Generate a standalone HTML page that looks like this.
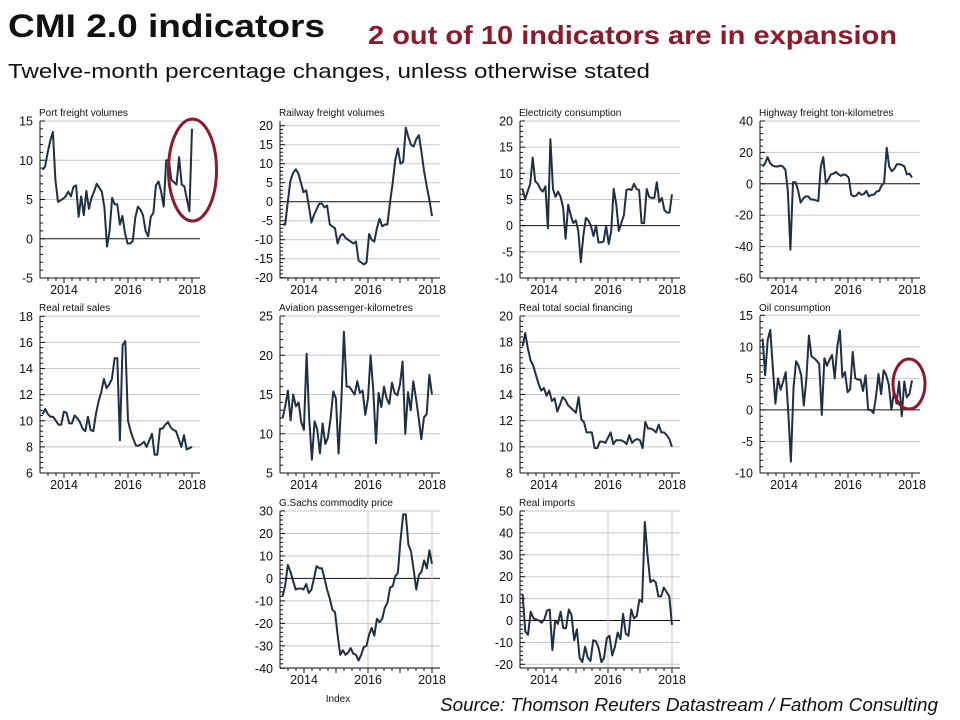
<!DOCTYPE html>
<html><head><meta charset="utf-8"><style>
body{margin:0;background:#fff;}
svg{display:block;font-family:"Liberation Sans",Arial,sans-serif;}
</style></head><body>
<svg id="c" width="960" height="720" xmlns="http://www.w3.org/2000/svg">
<text x="8" y="37" font-size="32" font-weight="bold" fill="#111" textLength="317" lengthAdjust="spacingAndGlyphs">CMI 2.0 indicators</text>
<text x="368" y="44" font-size="26" font-weight="bold" fill="#8b1a2b" textLength="529" lengthAdjust="spacingAndGlyphs">2 out of 10 indicators are in expansion</text>
<text x="8" y="78" font-size="20" fill="#111" textLength="642" lengthAdjust="spacingAndGlyphs">Twelve-month percentage changes, unless otherwise stated</text>
<text x="938" y="711" font-size="18" font-style="italic" fill="#111" text-anchor="end" textLength="498" lengthAdjust="spacingAndGlyphs">Source: Thomson Reuters Datastream / Fathom Consulting</text>
<text x="338" y="702" font-size="10" fill="#111" text-anchor="middle">Index</text>
</svg>
<script>
const titles=["Port freight volumes","Railway freight volumes","Electricity consumption","Highway freight ton-kilometres","Real retail sales","Aviation passenger-kilometres","Real total social financing","Oil consumption","G.Sachs commodity price","Real imports"];
const yTicks=[[-5,0,5,10,15],[-20,-15,-10,-5,0,5,10,15,20],[-10,-5,0,5,10,15,20],[-60,-40,-20,0,20,40],[6,8,10,12,14,16,18],[5,10,15,20,25],[8,10,12,14,16,18,20],[-10,-5,0,5,10,15],[-40,-30,-20,-10,0,10,20,30],[-20,-10,0,10,20,30,40,50]];
const xTicks=[2014,2016,2018];
const port=[8.8,9.2,11,12.5,13.6,7.5,4.7,4.9,5.1,5.4,6,5.4,6.6,6.8,2.8,5.4,3,6.1,3.8,5.2,6,7,6.5,6,4,-1,1,5.2,4.4,4.4,1.8,2.9,0.7,-0.6,-0.6,-0.3,2.7,4.1,3.7,3,1,0.3,2.8,3.3,6.8,7.3,6,4.1,10,10,7.5,7.2,6.9,10.4,6.9,6.7,5.1,3.5,14];
const railway=[-6,-6,0,5.5,7.5,8.5,7.5,5,2.5,3,-1,-5.5,-3.5,-2,-0.5,-0.5,-1.5,-1,-6,-6.5,-7,-11,-9,-8.5,-9.5,-10,-10.5,-11,-10.5,-15.5,-16,-16.5,-16,-8.5,-10,-10.5,-7,-4.5,-6.5,-6,-6,0,5,11,14,10,10.5,19.5,17,15,14.5,16.5,17.5,13,8,4,0.5,-3.8];
const electricity=[7,5,6.5,8,13,8.5,8,7,6.5,7.5,-0.5,16.5,7,5.5,6.5,5.5,3.5,-2.5,4,2,0.5,1,-1,-7,-2,1.5,1,0,-2,0,-3.2,-3.2,-3,0,-3.5,-1,7,4,-1,0.5,2,6.8,7,6.8,8,7,6.8,0.5,0.5,7,5.5,5.3,5.3,8.3,4.5,5.3,3,2.5,2.5,6];
const highway=[11,13,17,13,11.5,11,11,11.5,11,9,-5,-42,1,1,-4,-12,-9.5,-8,-8,-10,-10,-10.5,-11,11,17,0,3,6,6.5,7.5,6,5,6,5.5,4,-7,-8,-7.5,-5.5,-7,-6.5,-4.5,-8,-7,-7,-5,-4.5,-1,0.5,23,11,8,9.5,12.5,12.5,12,11,6,6.5,4];
const retail=[10.5,10.9,10.5,10.3,10.3,10,9.7,9.7,10.7,10.6,9.8,9.8,10.4,10.2,9.9,9.4,9.2,10.3,9.3,9.2,10.5,11.5,12.2,13.2,12.5,12.8,13.2,14.8,14.8,8.5,15.8,16.1,10,9.2,8.6,8.1,8.1,8.2,8.4,8,8.5,9,7.4,7.4,9.4,9.4,9.7,9.9,9.5,9.3,9.2,8.6,8,8.9,7.8,7.9,8];
const aviation=[12,13.5,15.5,11.7,15,13.5,14,11.5,10.5,20.2,12,6.7,11.6,10.5,7.5,11.3,8.7,9.5,12,15.4,14.5,7.5,14,23,16,16,15.5,15,16.7,15.2,15.5,12.4,14.5,20,15.5,8.8,15.2,13.4,16,14.5,13.8,16.5,15.2,14.9,16.3,19.2,10,15.3,13,16.7,14.5,12,9.3,12.1,12.5,17.5,15];
const social=[17.7,18.7,17.5,16.6,16.2,15.5,14.8,14.3,14.5,13.9,14.3,13.5,13.7,12.7,13.2,13.8,13.6,13.2,13,12.8,12.6,13.8,12.1,11.9,11.1,11.1,11.1,9.9,9.9,10.4,10.4,10.3,10.7,11.1,10.2,10.5,10.5,10.5,10.4,10.2,10.9,10.3,10.5,10.6,10.5,9.9,11.9,11.4,11.4,11.3,11.1,11.7,11.1,11.1,10.9,10.6,10];
const oil=[11.3,5.5,11.1,12.7,6.5,1,5,3.2,4.5,6,-0.5,-8.2,3.5,7.7,7,5.5,0.7,5,11.8,8.5,8.2,7.8,7.3,-0.8,8.2,7,8,8.7,5,10,12.6,5.2,6,2.8,3.3,9.2,5,4.8,4.8,3,5.5,0,0,-0.5,2,5.7,2.5,6.3,5.5,4,0,3,1,4.5,-1,4.5,2,2.5,4.7];
const commodity=[-8,-3,6,3,-1,-5,-4.5,-4.5,-5,-2.5,-6.5,-5,0,5.5,4.5,4.5,0,-5,-9,-14,-15,-25,-34,-32,-34,-33,-31,-33.5,-34,-36.5,-34,-30.5,-30,-25,-22,-25.5,-18,-19.5,-18,-13,-11,-4,-3.5,1,2.5,17,28.5,28.5,15,12,4,-5,1.5,3,8,4.5,12.5,6.5];
const imports=[12,-5,-6.5,4,1,0.5,0,-1,0.5,4.5,5,-13.5,0,-1.5,4,-3.5,-3.5,5,2.5,-9,-4,-17,-19,-12,-17,-18.5,-9,-9.5,-12.5,-19,-17,-8,-7,-16,-12,-5.5,-8.5,3,-6,-7,5,1,2,9.5,8.5,45,30,17.5,18.5,17.5,11,11,15,13,11,-2];
const series=[port,railway,electricity,highway,retail,aviation,social,oil,commodity,imports];
const startYear=2013.33,endYear=2018.0;

const layout=[
 {ax:40,top:121,bot:278,lab:294,vg:false},{ax:280,top:121,bot:278,lab:294,vg:false},{ax:520,top:121,bot:278,lab:294,vg:false},{ax:760,top:121,bot:278,lab:294,vg:false},
 {ax:40,top:316,bot:473,lab:489,vg:false},{ax:280,top:316,bot:473,lab:489,vg:false},{ax:520,top:316,bot:473,lab:489,vg:false},{ax:760,top:316,bot:473,lab:489,vg:false},
 {ax:280,top:511,bot:668,lab:684,vg:true},{ax:520,top:511,bot:668,lab:684,vg:true}];
const tickPos=[[121,278],[125.7,277.7],[121,278],[121,278],[316.3,473],[316,473],[316,473],[315.3,473],[511,668.3],[511,664.3]];
const NS="http://www.w3.org/2000/svg";
const svg=document.getElementById('c');
function mk(tag,attrs,parent){const e=document.createElementNS(NS,tag);for(const k in attrs)e.setAttribute(k,attrs[k]);(parent||svg).appendChild(e);return e;}
series.forEach((data,p)=>{
 const L=layout[p],yt=yTicks[p];
 const g=mk('g',{});
 
 
 const ymin=yt[0],ymax=yt[yt.length-1];
 const yTop=tickPos[p][0],yBot=tickPos[p][1];
 const y=v=>yBot-(v-ymin)/(ymax-ymin)*(yBot-yTop);
 const x=t=>L.ax+24+(t-2014)*32;
 const right=L.ax+160;
 const tt=mk('text',{x:L.ax-1,y:L.top-5,'font-size':10,fill:'#111'},g);tt.textContent=titles[p];
 
 
 yt.forEach(v=>{
  const yy=y(v);
  const ln=mk('line',{x1:L.ax,x2:right,y1:yy,y2:yy,stroke:v===0?'#111':'#c8c8c8','stroke-width':1},g);
  
  
  const lb=mk('text',{x:L.ax-7,y:yy+4.5,'font-size':12.5,fill:'#111','text-anchor':'end'},g);lb.textContent=String(v);
  
  
 });
 const step=(yt[1]-yt[0])/5;
 for(let v=ymin;v<=ymax+1e-9;v+=step){const yy=y(v);mk('line',{x1:L.ax,x2:L.ax+(Math.abs((v-ymin)/(yt[1]-yt[0])-Math.round((v-ymin)/(yt[1]-yt[0])))<1e-6?5:3),y1:yy,y2:yy,stroke:'#111','stroke-width':1},g);}
 if(L.vg){xTicks.slice(1).forEach(t=>{const vl=mk('line',{x1:x(t),x2:x(t),y1:L.top,y2:L.bot,stroke:'#c8c8c8'},g);});}
 const ya=mk('line',{x1:L.ax,x2:L.ax,y1:L.top,y2:L.bot,stroke:'#111'},g);
 
 
 const xa=mk('line',{x1:L.ax,x2:right,y1:L.bot,y2:L.bot,stroke:'#111'},g);
 
 
 for(let t=2013.5;t<=2018.01;t+=0.25){const xx=x(t);const major=Math.abs(t-Math.round(t))<1e-6;mk('line',{x1:xx,x2:xx,y1:L.bot,y2:L.bot+(major?5:3),stroke:'#111'},g);}
 xTicks.forEach(t=>{const lb=mk('text',{x:x(t),y:L.lab,'font-size':12.5,fill:'#111','text-anchor':'middle'},g);lb.textContent=t;
  
  });
 const n=data.length;
 const pts=data.map((v,i)=>x(startYear+i*(endYear-startYear)/(n-1)).toFixed(1)+','+y(v).toFixed(1)).join(' ');
 const pl=mk('polyline',{points:pts,fill:'none',stroke:'#1f3044','stroke-width':2,'stroke-linejoin':'round'},g);
 
 
});
const e1=mk('ellipse',{cx:192.5,cy:170,rx:24,ry:51,fill:'none',stroke:'#8b1a2b','stroke-width':3});


const e2=mk('ellipse',{cx:909,cy:384,rx:16,ry:25,fill:'none',stroke:'#8b1a2b','stroke-width':3});


</script>
</body></html>
